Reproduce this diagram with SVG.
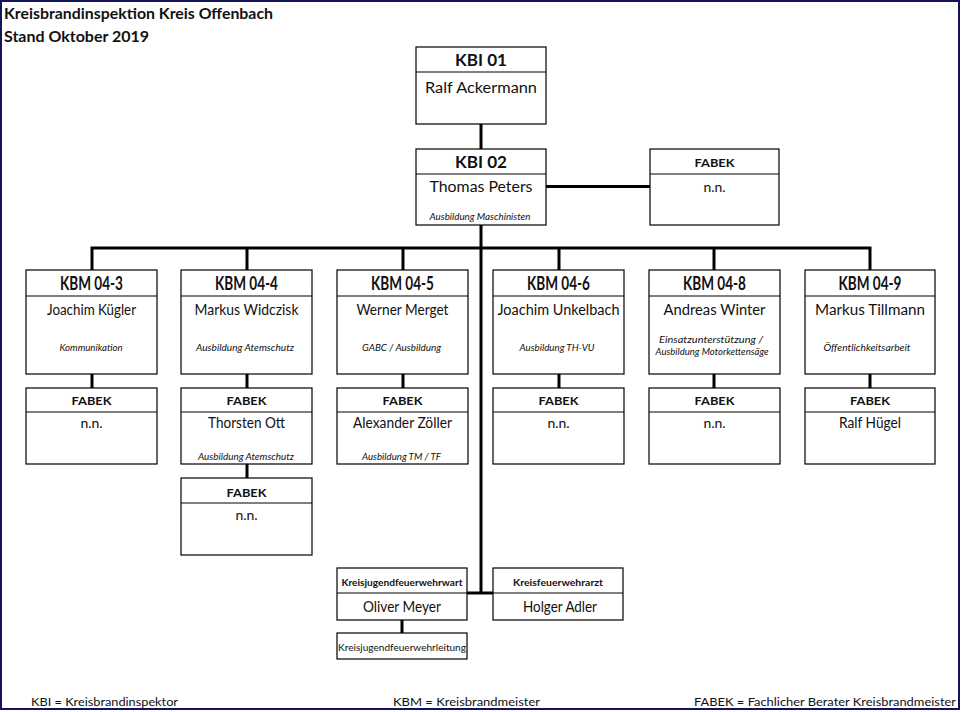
<svg xmlns="http://www.w3.org/2000/svg" width="962" height="712" viewBox="0 0 962 712">
<style>
  text { font-family: Lato, "Liberation Sans", Arial, sans-serif; fill: #111; text-anchor: middle; }
  .box { fill: #fff; stroke: #000; stroke-width: 1.2; }
  .div { stroke: #000; stroke-width: 1; }
  .con { fill: none; stroke: #000; stroke-width: 3; }
  .h1 { font-size: 17px; font-weight: bold; }
  .h2 { font-size: 18px; font-weight: bold; }
  .fb { font-size: 11.5px; font-weight: bold; }
  .nm { font-size: 14.5px; }
  .nn { font-size: 14px; }
  .sub { font-size: 9px; font-style: italic; }
  .title { font-size: 15px; font-weight: bold; text-anchor: start; }
  .foot { font-size: 12px; text-anchor: start; }
  .small { font-size: 9px; font-weight: bold; }
</style>
<rect x="0" y="0" width="962" height="712" fill="#fff"/>
<rect x="1" y="1" width="958" height="708" fill="none" stroke="#14145a" stroke-width="2"/>

<g id="title">
  <text class="title" x="4" y="19" textLength="269" lengthAdjust="spacingAndGlyphs">Kreisbrandinspektion Kreis Offenbach</text>
  <text class="title" x="4" y="42" textLength="145" lengthAdjust="spacingAndGlyphs">Stand Oktober 2019</text>
</g>

<g id="connectors">
  <path class="con" d="M481,124 V149"/>
  <path class="con" d="M546,186.5 H650"/>
  <path class="con" d="M481,225 V593"/>
  <path class="con" d="M92,270 V248 H870 V270"/>
  <path class="con" d="M247,248 V270 M403,248 V270 M559,248 V270 M714,248 V270"/>
  <path class="con" d="M92,374 V388 M247,374 V388 M403,374 V388 M559,374 V388 M714,374 V388 M870,374 V388"/>
  <path class="con" d="M247,464 V478"/>
  <path class="con" d="M467,593 H493"/>
  <path class="con" d="M402,620 V633"/>
</g>

<g id="kbi01">
  <rect class="box" x="416" y="47" width="130" height="77"/>
  <line class="div" x1="416" y1="72" x2="546" y2="72"/>
  <text class="h1" x="481" y="66" textLength="52" lengthAdjust="spacingAndGlyphs">KBI 01</text>
  <text class="nm" x="481" y="93" textLength="112" lengthAdjust="spacingAndGlyphs">Ralf Ackermann</text>
</g>

<g id="kbi02">
  <rect class="box" x="416" y="149" width="130" height="76"/>
  <line class="div" x1="416" y1="174" x2="546" y2="174"/>
  <text class="h1" x="481" y="168" textLength="52" lengthAdjust="spacingAndGlyphs">KBI 02</text>
  <text class="nm" x="481" y="192" textLength="103" lengthAdjust="spacingAndGlyphs">Thomas Peters</text>
  <text class="sub" x="480" y="220" textLength="101" lengthAdjust="spacingAndGlyphs">Ausbildung Maschinisten</text>
</g>

<g id="fabek-kbi">
  <rect class="box" x="650" y="149" width="129" height="76"/>
  <line class="div" x1="650" y1="174" x2="779" y2="174"/>
  <text class="fb" x="714.5" y="167" textLength="40" lengthAdjust="spacingAndGlyphs">FABEK</text>
  <text class="nn" x="714.5" y="192">n.n.</text>
</g>

<g id="kbm-04-3">
  <rect class="box" x="26" y="270" width="131" height="104"/>
  <line class="div" x1="26" y1="296" x2="157" y2="296"/>
  <text class="h2" x="91.5" y="290" textLength="63" lengthAdjust="spacingAndGlyphs">KBM 04-3</text>
  <text class="nm" x="91.5" y="315" textLength="89" lengthAdjust="spacingAndGlyphs">Joachim Kügler</text>
  <text class="sub" x="91" y="351" textLength="63" lengthAdjust="spacingAndGlyphs">Kommunikation</text>
</g>

<g id="kbm-04-4">
  <rect class="box" x="181" y="270" width="131" height="104"/>
  <line class="div" x1="181" y1="296" x2="312" y2="296"/>
  <text class="h2" x="246.5" y="290" textLength="63" lengthAdjust="spacingAndGlyphs">KBM 04-4</text>
  <text class="nm" x="246.5" y="315" textLength="104" lengthAdjust="spacingAndGlyphs">Markus Widczisk</text>
  <text class="sub" x="245" y="351" textLength="98" lengthAdjust="spacingAndGlyphs">Ausbildung Atemschutz</text>
</g>

<g id="kbm-04-5">
  <rect class="box" x="337" y="270" width="131" height="104"/>
  <line class="div" x1="337" y1="296" x2="468" y2="296"/>
  <text class="h2" x="402.5" y="290" textLength="63" lengthAdjust="spacingAndGlyphs">KBM 04-5</text>
  <text class="nm" x="402.5" y="315" textLength="92" lengthAdjust="spacingAndGlyphs">Werner Merget</text>
  <text class="sub" x="401.5" y="351" textLength="79" lengthAdjust="spacingAndGlyphs">GABC / Ausbildung</text>
</g>

<g id="kbm-04-6">
  <rect class="box" x="493" y="270" width="131" height="104"/>
  <line class="div" x1="493" y1="296" x2="624" y2="296"/>
  <text class="h2" x="558.5" y="290" textLength="63" lengthAdjust="spacingAndGlyphs">KBM 04-6</text>
  <text class="nm" x="558.5" y="315" textLength="122" lengthAdjust="spacingAndGlyphs">Joachim Unkelbach</text>
  <text class="sub" x="557" y="351" textLength="75" lengthAdjust="spacingAndGlyphs">Ausbildung TH-VU</text>
</g>

<g id="kbm-04-8">
  <rect class="box" x="649" y="270" width="131" height="104"/>
  <line class="div" x1="649" y1="296" x2="780" y2="296"/>
  <text class="h2" x="714.5" y="290" textLength="63" lengthAdjust="spacingAndGlyphs">KBM 04-8</text>
  <text class="nm" x="714.5" y="315" textLength="102" lengthAdjust="spacingAndGlyphs">Andreas Winter</text>
  <text class="sub" x="711" y="343" textLength="104" lengthAdjust="spacingAndGlyphs">Einsatzunterstützung /</text>
  <text class="sub" x="712" y="355" textLength="113" lengthAdjust="spacingAndGlyphs">Ausbildung Motorkettensäge</text>
</g>

<g id="kbm-04-9">
  <rect class="box" x="805" y="270" width="130" height="104"/>
  <line class="div" x1="805" y1="296" x2="935" y2="296"/>
  <text class="h2" x="870" y="290" textLength="63" lengthAdjust="spacingAndGlyphs">KBM 04-9</text>
  <text class="nm" x="870" y="315" textLength="110" lengthAdjust="spacingAndGlyphs">Markus Tillmann</text>
  <text class="sub" x="867" y="351" textLength="87" lengthAdjust="spacingAndGlyphs">Öffentlichkeitsarbeit</text>
</g>

<g id="fabek-04-3">
  <rect class="box" x="26" y="388" width="131" height="76"/>
  <line class="div" x1="26" y1="412" x2="157" y2="412"/>
  <text class="fb" x="91.5" y="405" textLength="40" lengthAdjust="spacingAndGlyphs">FABEK</text>
  <text class="nn" x="91.5" y="428">n.n.</text>
</g>

<g id="fabek-04-4">
  <rect class="box" x="181" y="388" width="131" height="76"/>
  <line class="div" x1="181" y1="412" x2="312" y2="412"/>
  <text class="fb" x="246.5" y="405" textLength="40" lengthAdjust="spacingAndGlyphs">FABEK</text>
  <text class="nm" x="246.5" y="428" textLength="77" lengthAdjust="spacingAndGlyphs">Thorsten Ott</text>
  <text class="sub" x="246" y="460" textLength="96" lengthAdjust="spacingAndGlyphs">Ausbildung Atemschutz</text>
</g>

<g id="fabek-04-4b">
  <rect class="box" x="181" y="478" width="131" height="77"/>
  <line class="div" x1="181" y1="503" x2="312" y2="503"/>
  <text class="fb" x="246.5" y="497" textLength="40" lengthAdjust="spacingAndGlyphs">FABEK</text>
  <text class="nn" x="246.5" y="520">n.n.</text>
</g>

<g id="fabek-04-5">
  <rect class="box" x="337" y="388" width="131" height="76"/>
  <line class="div" x1="337" y1="412" x2="468" y2="412"/>
  <text class="fb" x="402.5" y="405" textLength="40" lengthAdjust="spacingAndGlyphs">FABEK</text>
  <text class="nm" x="402.5" y="428" textLength="99" lengthAdjust="spacingAndGlyphs">Alexander Zöller</text>
  <text class="sub" x="401.5" y="460" textLength="79" lengthAdjust="spacingAndGlyphs">Ausbildung TM / TF</text>
</g>

<g id="fabek-04-6">
  <rect class="box" x="493" y="388" width="131" height="76"/>
  <line class="div" x1="493" y1="412" x2="624" y2="412"/>
  <text class="fb" x="558.5" y="405" textLength="40" lengthAdjust="spacingAndGlyphs">FABEK</text>
  <text class="nn" x="558.5" y="428">n.n.</text>
</g>

<g id="fabek-04-8">
  <rect class="box" x="649" y="388" width="131" height="76"/>
  <line class="div" x1="649" y1="412" x2="780" y2="412"/>
  <text class="fb" x="714.5" y="405" textLength="40" lengthAdjust="spacingAndGlyphs">FABEK</text>
  <text class="nn" x="714.5" y="428">n.n.</text>
</g>

<g id="fabek-04-9">
  <rect class="box" x="805" y="388" width="130" height="76"/>
  <line class="div" x1="805" y1="412" x2="935" y2="412"/>
  <text class="fb" x="870" y="405" textLength="40" lengthAdjust="spacingAndGlyphs">FABEK</text>
  <text class="nm" x="870" y="428" textLength="62" lengthAdjust="spacingAndGlyphs">Ralf Hügel</text>
</g>

<g id="kreisjugendfeuerwehrwart">
  <rect class="box" x="337" y="568" width="130" height="52"/>
  <line class="div" x1="337" y1="593" x2="467" y2="593"/>
  <text class="small" x="402" y="586" textLength="121" lengthAdjust="spacingAndGlyphs">Kreisjugendfeuerwehrwart</text>
  <text class="nm" x="402" y="612" textLength="78" lengthAdjust="spacingAndGlyphs">Oliver Meyer</text>
</g>

<g id="kreisfeuerwehrarzt">
  <rect class="box" x="493" y="568" width="130" height="52"/>
  <line class="div" x1="493" y1="593" x2="623" y2="593"/>
  <text class="small" x="558" y="586" textLength="90" lengthAdjust="spacingAndGlyphs">Kreisfeuerwehrarzt</text>
  <text class="nm" x="560" y="612" textLength="74" lengthAdjust="spacingAndGlyphs">Holger Adler</text>
</g>

<g id="kreisjugendfeuerwehrleitung">
  <rect class="box" x="337" y="633" width="130" height="26"/>
  <text x="402" y="651" style="font-size:8.5px" textLength="128" lengthAdjust="spacingAndGlyphs">Kreisjugendfeuerwehrleitung</text>
</g>

<g id="legend">
  <text class="foot" x="31" y="706" textLength="147" lengthAdjust="spacingAndGlyphs">KBI = Kreisbrandinspektor</text>
  <text class="foot" x="393" y="706" textLength="147" lengthAdjust="spacingAndGlyphs">KBM = Kreisbrandmeister</text>
  <text class="foot" x="694" y="706" textLength="262" lengthAdjust="spacingAndGlyphs">FABEK = Fachlicher Berater Kreisbrandmeister</text>
</g>
</svg>
